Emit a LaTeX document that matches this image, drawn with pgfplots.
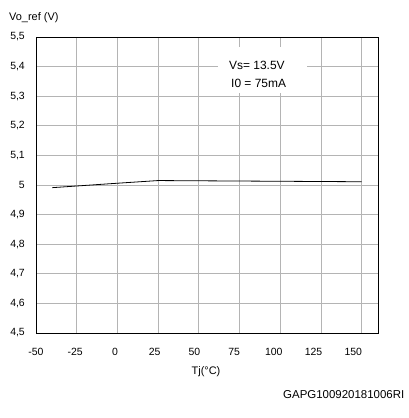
\documentclass[border=0pt]{standalone}
\usepackage{fontspec}
\setmainfont{Liberation Sans}
\usepackage{pgfplots}
\pgfplotsset{compat=1.18}
\definecolor{gridgray}{RGB}{180,180,180}

\begin{document}
\begin{tikzpicture}[x=1bp,y=1bp]
\useasboundingbox (-36,-85) rectangle (373,333);
\begin{axis}[
  at={(0,0)}, anchor=south west,
  scale only axis, width=342bp, height=296bp,
  xmin=-50, xmax=160, ymin=4.5, ymax=5.5,
  xtick={-50,-25,0,25,50,75,100,125,150},
  xticklabels={},
  % labels sit on a slightly tighter pitch than the grid
  extra x ticks={-50,-25.9,-1.5,22.9,47.3,71.7,96.0,120.4,144.8},
  extra x tick labels={-50,-25,0,25,50,75,100,125,150},
  extra x tick style={grid=none},
  ytick={4.5,4.6,4.7,4.8,4.9,5.0,5.1,5.2,5.3,5.4,5.5},
  yticklabels={{4,5},{4,6},{4,7},{4,8},{4,9},5,{5,1},{5,2},{5,3},{5,4},{5,5}},
  grid=major,
  major grid style={gridgray, line width=0.75bp},
  major tick length=0pt,
  axis line style={black, line width=0.9bp},
  tick label style={font=\fontsize{10.5}{12}\selectfont},
  yticklabel style={anchor=east, inner sep=0pt, xshift=-11bp},
  xticklabel style={anchor=center, inner sep=0pt, yshift=-19bp},
  clip=false,
]
\addplot[black, line width=0.8bp] coordinates {
  (-40,4.991) (0,5.006) (25,5.015) (150,5.011)
};
\fill[white] (axis cs:61.8,5.311) rectangle (axis cs:116.5,5.466);
\node[anchor=west, inner sep=0pt, align=left,
      font=\fontsize{12}{18}\selectfont] at (axis cs:68.5,5.375)
  {Vs= 13.5V\\\hspace*{2bp}I0 = 75mA};
\end{axis}
\node[anchor=west, inner sep=0pt, font=\fontsize{11}{13}\selectfont] at (-27,315) {Vo\_ref (V)};
\node[inner sep=0pt, font=\fontsize{11}{13}\selectfont] at (170,-39) {Tj(°C)};
\node[anchor=west, inner sep=0pt, font=\fontsize{11.5}{13}\selectfont] at (247,-62) {GAPG100920181006RI};
\end{tikzpicture}
\end{document}
